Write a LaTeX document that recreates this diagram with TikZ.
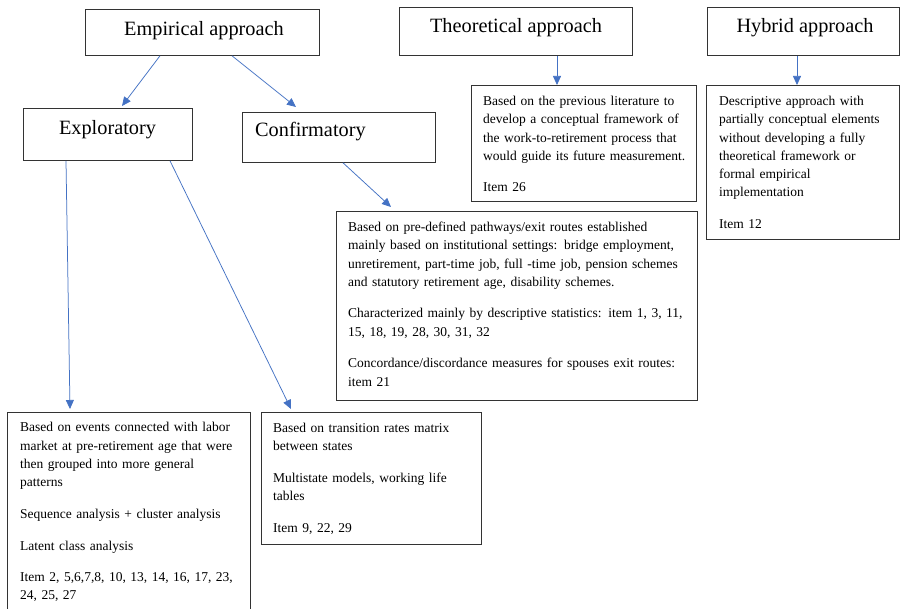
\documentclass[tikz,border=0pt]{standalone}
\usepackage{fontspec}
\setmainfont{Liberation Serif}
\usetikzlibrary{arrows.meta,calc}
\definecolor{arrowblue}{HTML}{4472C4}
\definecolor{boxline}{HTML}{333333}
\begin{document}
\begin{tikzpicture}[x=1pt,y=-1pt,
  box/.style={draw=boxline, line width=0.8pt, inner sep=0pt, anchor=north west, rectangle},
  titletext/.style={anchor=base, inner sep=0pt, font=\fontsize{20.3}{24}\selectfont},
  titletextl/.style={anchor=base west, inner sep=0pt, font=\fontsize{20.3}{24}\selectfont},
  body/.style={anchor=base west, inner sep=0pt, align=left, text width=#1, font=\fontsize{13.5}{18.3}\selectfont},
  arr/.style={draw=arrowblue, line width=0.75pt, -{Triangle[length=9pt,width=8pt]}}]
\useasboundingbox (0,0) rectangle (900,609);
\fill[white] (0,0) rectangle (900,609);

% title boxes
\node[box, minimum width=234pt, minimum height=46pt] (emp) at (85,9) {};
\node[titletext] (empt) at ($(emp.north west)+(119,27)$) {Empirical approach};
\node[box, minimum width=233pt, minimum height=48pt] (theo) at (399,7) {};
\node[titletext] (theot) at ($(theo.north west)+(117,25.5)$) {Theoretical approach};
\node[box, minimum width=192pt, minimum height=48pt] (hyb) at (707,7) {};
\node[titletext] (hybt) at ($(hyb.north west)+(98,25.8)$) {Hybrid approach};

\node[box, minimum width=169pt, minimum height=52pt] (expl) at (23,108) {};
\node[titletext] (explt) at ($(expl.north west)+(84.5,26.3)$) {Exploratory};
\node[box, minimum width=193pt, minimum height=50pt] (conf) at (242,112) {};
\node[titletextl] (conft) at ($(conf.north west)+(13,24.7)$) {Confirmatory};

% description boxes
\node[box, minimum width=225pt, minimum height=116pt] (theob) at (471,85) {};
\node[body=215pt] (theobt) at ($(theob.north west)+(12,20.5)$) {Based on the previous literature to\\
develop a conceptual framework of\\
the work-to-retirement process that\\
would guide its future measurement.\\[13.3pt]
Item 26};

\node[box, minimum width=193pt, minimum height=154pt] (hybb) at (706,85) {};
\node[body=185pt] (hybbt) at ($(hybb.north west)+(13,20.5)$) {Descriptive approach with\\
partially conceptual elements\\
without developing a fully\\
theoretical framework or\\
formal empirical\\
implementation\\[13.3pt]
Item 12};

\node[box, minimum width=361pt, minimum height=189pt] (big) at (336,211) {};
\node[body=355pt] (bigt) at ($(big.north west)+(12,20.5)$) {Based on pre-defined pathways/exit routes established\\
mainly based on institutional settings: bridge employment,\\
unretirement, part-time job, full -time job, pension schemes\\
and statutory retirement age, disability schemes.\\[13.3pt]
Characterized mainly by descriptive statistics: item 1, 3, 11,\\
15, 18, 19, 28, 30, 31, 32\\[13.3pt]
Concordance/discordance measures for spouses exit routes:\\
item 21};

\node[inner sep=0pt, anchor=north west, minimum width=243pt, minimum height=197pt] (lbox) at (7,412) {};
\draw[boxline, line width=0.8pt] (lbox.south west) -- (lbox.north west) -- (lbox.north east) -- (lbox.south east);
\node[body=235pt] (lboxt) at ($(lbox.north west)+(13,20)$) {Based on events connected with labor\\
market at pre-retirement age that were\\
then grouped into more general\\
patterns\\[13.3pt]
Sequence analysis + cluster analysis\\[13.3pt]
Latent class analysis\\[13.3pt]
Item 2, 5,6,7,8, 10, 13, 14, 16, 17, 23,\\
24, 25, 27};

\node[box, minimum width=220pt, minimum height=132pt] (rbox) at (261,412) {};
\node[body=215pt] (rboxt) at ($(rbox.north west)+(12,20.5)$) {Based on transition rates matrix\\
between states\\[13.3pt]
Multistate models, working life\\
tables\\[13.3pt]
Item 9, 22, 29};

% connectors
\draw[arr] ($(emp.south west)+(75,0)$) -- ($(expl.north west)+(99,-2)$);
\draw[arr] ($(emp.south west)+(147,0)$) -- ($(conf.north west)+(54,-5)$);
\draw[arr] ($(theo.south west)+(158,0)$) -- ($(theob.north west)+(86,0)$);
\draw[arr] ($(hyb.south west)+(90,0)$) -- ($(hybb.north west)+(91,0)$);
\draw[arr] ($(conf.south west)+(101,0)$) -- ($(big.north west)+(55,-4)$);
\draw[arr] ($(expl.south west)+(43,0)$) -- ($(lbox.north west)+(63,-3)$);
\draw[arr] ($(expl.south west)+(147,0)$) -- ($(rbox.north west)+(30,-3)$);
\end{tikzpicture}
\end{document}
